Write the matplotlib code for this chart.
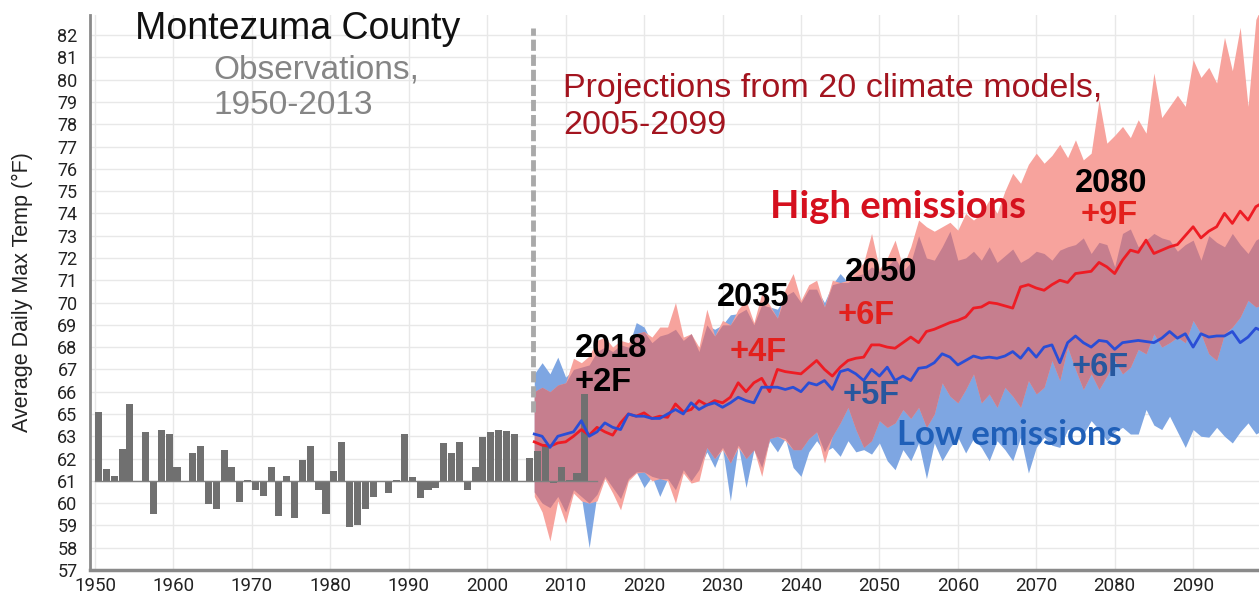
import numpy as np
import matplotlib
matplotlib.use("Agg")
import matplotlib.pyplot as plt

# observed annual values 1950-2013 (bars drawn from the 61 baseline)
obs_years = np.arange(1950, 2014)
obs_vals = [64.09, 61.54, 61.22, 62.45, 64.43, 61.0, 63.2, 59.53, 63.29, 63.1,
            61.64, 61.0, 62.25, 62.56, 59.96, 59.73, 62.38, 61.64, 60.04, 61.06,
            60.57, 60.34, 61.64, 59.43, 61.23, 59.32, 61.95, 62.56, 60.57, 59.53,
            61.46, 62.76, 58.92, 59.01, 59.73, 60.27, 60.95, 60.45, 61.05, 63.1,
            61.15, 60.22, 60.6, 60.68, 62.68, 62.25, 62.76, 60.57, 61.64, 62.97,
            63.2, 63.29, 63.25, 63.12, 61.0, 62.02, 62.33, 62.64, 60.9, 61.64,
            61.05, 61.33, 64.88, 61.0]
baseline = 61

# model projections 2006-2099
proj_years = np.arange(2006, 2100)
high_mid = [62.75, 62.6, 62.55, 62.7, 62.75, 63.0, 63.3, 63.05, 63.4, 63.2,
            63.05, 63.6, 64.0, 63.9, 64.05, 63.8, 63.9, 63.85, 64.45, 64.1,
            64.2, 64.6, 64.4, 64.6, 64.5, 64.75, 65.4, 65.0, 65.4, 65.6,
            65.0, 66.0, 65.9, 65.85, 65.8, 66.1, 66.4, 66.0, 65.7, 66.1,
            66.4, 66.5, 66.55, 67.1, 67.1, 67.0, 66.95, 67.2, 67.45, 67.2,
            67.7, 67.8, 67.95, 68.1, 68.2, 68.35, 68.75, 68.8, 69.0, 68.95,
            68.85, 68.75, 69.7, 69.8, 69.65, 69.55, 69.8, 70.0, 69.9, 70.3,
            70.35, 70.4, 70.8, 70.6, 70.3, 70.9, 71.35, 71.25, 71.8, 71.2,
            71.35, 71.5, 71.6, 72.0, 72.4, 71.9, 72.2, 72.4, 73.0, 72.55,
            73.1, 72.7, 73.3, 73.5]
low_mid = [63.1, 63.0, 62.5, 63.0, 63.1, 63.2, 63.7, 63.0, 63.2, 63.6,
           63.4, 63.3, 64.0, 63.9, 63.9, 63.8, 63.8, 64.0, 64.2, 64.0,
           64.5, 64.2, 64.4, 64.5, 64.3, 64.5, 64.75, 64.6, 64.5, 65.2,
           65.2, 65.2, 65.1, 65.2, 65.0, 65.4, 65.3, 65.5, 65.1, 65.9,
           66.0, 65.8, 65.5, 66.0, 65.7, 66.1, 65.5, 65.7, 65.5, 66.05,
           66.1, 66.3, 66.7, 66.55, 66.2, 66.4, 66.6, 66.5, 66.55, 66.5,
           66.6, 66.8, 66.5, 66.95, 66.55, 67.0, 67.1, 66.3, 67.2, 67.5,
           67.2, 67.0, 67.3, 67.25, 66.9, 67.2, 67.25, 67.3, 67.25, 67.2,
           67.4, 67.7, 67.4, 67.6, 67.0, 67.6, 67.45, 67.5, 67.5, 67.7,
           67.2, 67.45, 67.85, 67.7]
high_top = [65.0, 65.2, 65.0, 65.3, 65.4, 66.5, 66.3, 66.6, 67.3, 67.45,
            67.0, 67.3, 67.2, 67.6, 67.7, 67.45, 67.9, 67.9, 69.0, 67.45,
            67.6, 67.0, 68.7, 67.5, 68.2, 68.0, 68.7, 69.1, 68.1, 69.4,
            68.9, 68.3, 69.6, 70.3, 69.1, 69.8, 70.0, 68.8, 70.0, 69.9,
            70.0, 70.4, 70.8, 72.1, 70.5, 71.0, 71.8, 70.6, 71.5, 72.7,
            72.4, 72.2, 72.4, 72.6, 72.25, 73.0, 72.7, 73.0, 73.6, 73.0,
            74.0, 74.8, 74.35, 75.2, 75.7, 75.25, 75.6, 76.1, 75.5, 76.3,
            75.4, 75.7, 78.1, 76.15, 76.5, 76.9, 76.4, 77.2, 76.6, 79.3,
            77.3, 77.8, 78.3, 77.8, 79.9, 79.1, 79.55, 78.85, 80.9, 79.4,
            81.35, 77.8, 81.7, 82.5]
high_bot = [60.3, 59.6, 58.3, 60.1, 59.1, 60.45, 60.1, 60.0, 60.1, 61.1,
            60.45, 59.7, 61.0, 61.35, 61.4, 61.0, 61.1, 61.0, 60.0, 61.35,
            60.9, 61.0, 62.5, 62.0, 62.4, 61.8, 62.5, 62.0, 62.4, 61.2,
            62.9, 63.0, 62.8, 62.4, 62.4, 62.9, 63.2, 61.8, 63.0, 63.6,
            64.3, 63.3, 62.5, 62.8, 63.7, 63.4, 63.6, 64.2, 63.8, 64.3,
            63.4, 64.0, 65.4, 64.8, 64.5, 65.1, 65.8, 64.5, 64.9, 64.3,
            65.2, 64.8, 64.3, 65.5, 64.9, 65.2, 66.4, 65.5, 67.0, 66.0,
            65.1, 65.8, 65.1, 65.7, 66.4, 65.8, 66.1, 66.9, 66.7, 67.6,
            67.0, 67.2, 67.45, 67.2, 68.2, 67.6, 66.7, 66.4, 67.6, 67.9,
            68.35, 69.1, 68.8, 68.9]
low_top = [65.8, 66.3, 65.8, 66.55, 65.65, 66.0, 66.1, 66.2, 66.8, 67.0,
           66.8, 67.1, 67.0, 68.1, 67.9, 67.2, 67.5, 67.6, 67.8, 67.3,
           67.6, 66.8, 68.0, 67.8, 68.0, 68.45, 68.5, 68.7, 68.0, 68.9,
           68.8, 68.7, 69.3, 69.5, 69.0, 69.6, 69.6, 69.0, 69.8, 70.3,
           69.9, 70.2, 70.3, 70.6, 70.4, 70.6, 71.0, 70.4, 70.8, 72.0,
           71.0, 70.9, 71.5, 72.2, 70.9, 71.0, 71.3, 70.9, 71.5, 70.8,
           71.1, 71.4, 70.8, 71.0, 71.3, 71.2, 70.9, 71.35, 71.5, 71.6,
           71.9, 71.2, 71.7, 71.6, 70.6, 72.1, 72.3, 71.5, 71.8, 72.1,
           71.9, 71.8, 71.3, 71.6, 71.8, 70.9, 72.0, 71.7, 71.5, 72.1,
           71.6, 71.2, 71.8, 72.0]
low_bot = [60.5, 60.0, 59.8, 60.3, 59.6, 60.6, 60.3, 58.0, 60.4, 61.2,
           60.7, 60.2, 61.1, 61.4, 60.7, 61.2, 60.3, 61.1, 60.6, 61.5,
           61.0, 61.5, 62.3, 61.6, 62.5, 60.1, 62.6, 60.7, 62.4, 61.6,
           62.8, 62.3, 62.9, 61.6, 61.2, 62.3, 62.8, 62.3, 62.5, 62.1,
           62.8, 62.3, 62.4, 62.2, 62.7, 61.9, 61.5, 62.4, 61.9, 62.7,
           61.1, 62.7, 61.9, 62.5, 62.96, 62.25, 62.9, 62.5, 61.9, 62.8,
           62.4, 61.9, 62.96, 61.35, 62.5, 62.96, 62.6, 62.5, 63.3, 63.4,
           63.1, 63.7, 63.3, 62.8, 63.2, 63.4, 63.1, 63.1, 64.2, 63.5,
           63.3, 63.9, 63.2, 62.5, 63.3, 63.0, 62.96, 63.4, 63.0, 62.7,
           63.2, 63.6, 63.1, 63.3]

# y axis labels as printed on the original (64 is skipped)
ytick_labels = ['57', '58', '59', '60', '61', '62', '63', '65', '66', '67', '68', '69',
                '70', '71', '72', '73', '74', '75', '76', '77', '78', '79', '80', '81', '82']
xtick_years = np.arange(1950, 2100, 10)

hi_top = np.array(high_top); hi_bot = np.array(high_bot)
lo_top = np.array(low_top); lo_bot = np.array(low_bot)

fig = plt.figure(figsize=(12.59, 6.0), dpi=100)
ax = fig.add_axes([0.0715, 0.05, 0.9285, 0.925])

ax.set_xlim(1949.36, 2098.4)
ax.set_ylim(57, 81.9)
ax.set_yticks(np.arange(57, 82))
ax.set_yticklabels(ytick_labels, fontsize=13, family='Roboto')
ax.set_xticks(xtick_years)
ax.set_xticklabels([str(y) for y in xtick_years], fontsize=13.5, family='Roboto')
ax.tick_params(axis='both', length=0, colors='#222222')
ax.tick_params(axis='y', pad=9)
ax.tick_params(axis='x', pad=5)
ax.grid(True, color='#e8e8e8', lw=1)
ax.set_axisbelow(True)
for s in ['top', 'right']:
    ax.spines[s].set_visible(False)
ax.spines['left'].set_color('#8a8a8a')
ax.spines['left'].set_linewidth(2)
ax.spines['bottom'].set_color('#8a8a8a')
ax.spines['bottom'].set_linewidth(2.5)

# bands: blue, red, then overlap in mauve
ax.fill_between(proj_years, lo_bot, lo_top, color='#7ea6e2', lw=0, zorder=2)
ax.fill_between(proj_years, hi_bot, hi_top, color='#f7a39d', lw=0, zorder=2)
ov_bot = np.maximum(hi_bot, lo_bot)
ov_top = np.minimum(hi_top, lo_top)
ax.fill_between(proj_years, ov_bot, ov_top, where=ov_top > ov_bot, interpolate=True,
                color='#c67e8e', lw=0, zorder=3)

# observations
ax.bar(obs_years, np.array(obs_vals) - baseline, bottom=baseline, width=0.9,
       align='edge', color='#707070', zorder=4)
ax.plot([1950, 2014], [baseline, baseline], color='#808080', lw=1, zorder=4)

ax.plot(proj_years, high_mid, color='#ee1c24', lw=2, zorder=5)
ax.plot(proj_years, low_mid, color='#2a4ed6', lw=2, zorder=5)

ax.plot([2005.85, 2005.85], [64.1, 81.3], color='#a9a9a9', lw=3.5,
        linestyle=(0, (2.3, 0.8)), zorder=6)

# text
sans = 'Liberation Sans'
ax.text(1955.1, 81.25, 'Montezuma County', fontsize=27, family=sans, color='#111111',
        va='center', ha='left', zorder=7)
ax.text(1965.05, 79.45, 'Observations,', fontsize=24, family=sans, color='#858585',
        va='center', ha='left', zorder=7)
ax.text(1965.05, 77.85, '1950-2013', fontsize=24, family=sans, color='#858585',
        va='center', ha='left', zorder=7)
ax.text(2009.67, 78.6, 'Projections from 20 climate models,', fontsize=24.5, family=sans,
        color='#a3141f', va='center', ha='left', zorder=7)
ax.text(2009.67, 76.95, '2005-2099', fontsize=24.5, family=sans,
        color='#a3141f', va='center', ha='left', zorder=7)
ax.text(2036.07, 73.28, 'High emissions', fontsize=27.5, family='Lato', weight='bold',
        color='#d5101e', va='center', ha='left', zorder=7)
ax.text(2052.26, 63.05, 'Low emissions', fontsize=25, family='Lato', weight='bold',
        color='#1f5fb8', va='center', ha='left', zorder=7)

big = dict(fontsize=23.5, family=sans, weight='bold', va='center', ha='left', zorder=7)
ax.text(2011.2, 66.96, '2018', color='black', **big)
ax.text(2011.2, 65.39, '+2F', color='black', **big)
ax.text(2029.3, 69.24, '2035', color='black', **big)
ax.text(2030.96, 66.78, '+4F', color='#e3201c', **big)
ax.text(2045.6, 70.36, '2050', color='black', **big)
ax.text(2044.7, 68.43, '+6F', color='#e3201c', **big)
ax.text(2074.95, 74.35, '2080', color='black', **big)
ax.text(2075.6, 72.92, '+9F', color='#e3201c', **big)
ax.text(2045.37, 64.85, '+5F', color='#27579e', **big)
ax.text(2074.57, 66.1, '+6F', color='#27579e', **big)

fig.text(0.0175, 0.513, 'Average Daily Max Temp (°F)', rotation=90, fontsize=15.5,
         family=sans, color='#222222', va='center', ha='center')

fig.savefig('out.png', dpi=100)
